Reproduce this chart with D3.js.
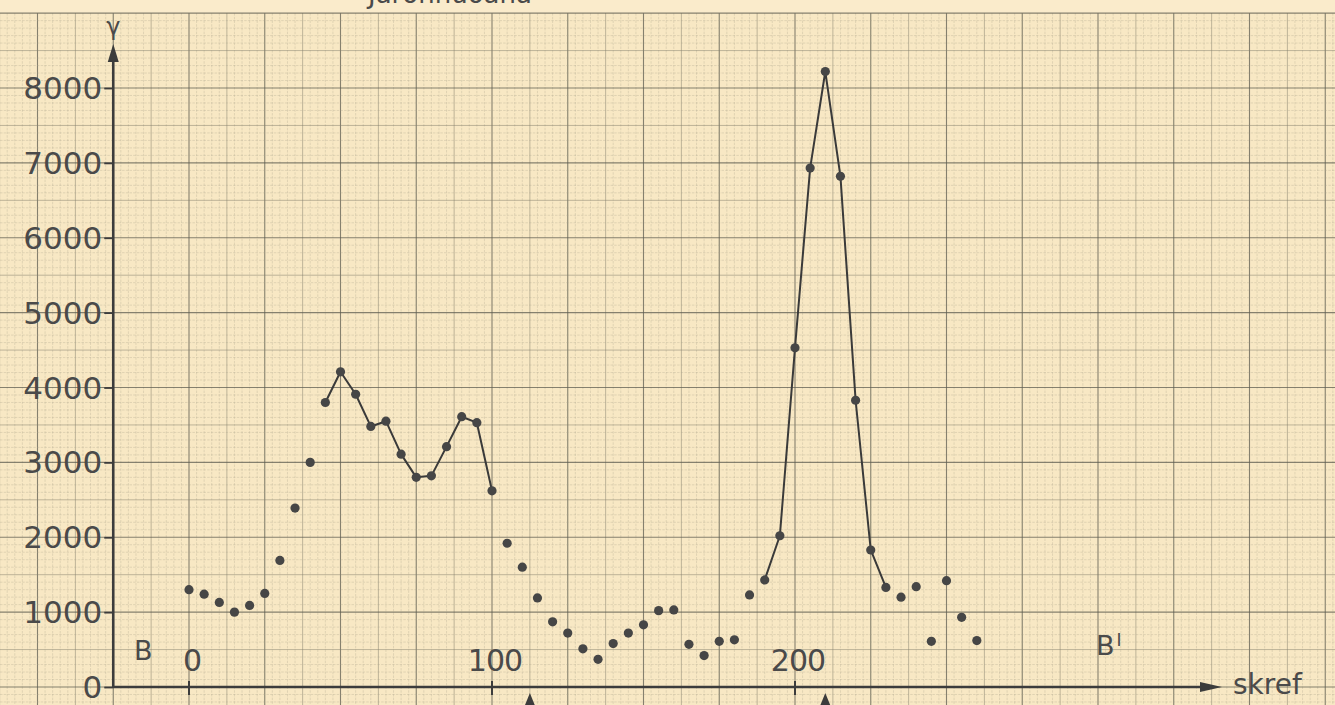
<!DOCTYPE html>
<html>
<head>
<meta charset="utf-8">
<script src="https://cdn.jsdelivr.net/npm/d3@7"></script>
<style>
  html, body { margin: 0; padding: 0; background: #f8e8c4; }
  svg { display: block; }
  text { font-family: "DejaVu Sans", sans-serif; fill: #4a4a4a; }
</style>
</head>
<body>
<svg id="chart" width="1335" height="705"></svg>
<script>
// Measurement positions along the profile (skref) and field values (γ)
const steps = [0, 5, 10, 15, 20, 25, 30, 35, 40, 45, 50, 55, 60, 65, 70, 75, 80, 85, 90, 95,
  100, 105, 110, 115, 120, 125, 130, 135, 140, 145, 150, 155, 160, 165, 170, 175, 180, 185, 190, 195,
  200, 205, 210, 215, 220, 225, 230, 235, 240, 245, 250, 255, 260];
const gamma = [1300, 1240, 1130, 1000, 1090, 1250, 1690, 2390, 3000, 3800, 4210, 3910, 3480, 3550, 3110, 2800, 2820, 3210, 3610, 3530,
  2620, 1920, 1600, 1190, 870, 720, 510, 370, 580, 720, 830, 1020, 1030, 570, 420, 610, 630, 1230, 1430, 2020,
  4530, 6930, 8220, 6820, 3830, 1830, 1330, 1200, 1340, 610, 1420, 930, 620];

// Stretches of the profile joined by a line
const joinedRuns = [[45, 100], [190, 230]];

// Axis tick labels
const yTicks = [0, 1000, 2000, 3000, 4000, 5000, 6000, 7000, 8000];
const xTicks = [0, 100, 200];
// Markers under the profile axis
const markerSteps = [112.5, 210];

const svg = d3.select("#chart");
const W = 1335, H = 705;

const x = d3.scaleLinear().domain([0, 200]).range([189, 795]);
const y = d3.scaleLinear().domain([0, 8000]).range([687, 88]);

// Paper
svg.append("rect").attr("width", W).attr("height", H).attr("fill", "#f8e8c4");
svg.append("rect").attr("width", W).attr("height", y(9000)).attr("fill", "#faebcb");

// Graph-paper ruling: 10 fine cells per major square, heavier line at the half
const grid = svg.append("g");
const gTop = y(9000), gBottom = H;
function rule(sel, major, mid) {
  return sel
    .attr("stroke", major ? "#5f5d52" : mid ? "#857f6d" : "#a9a18a")
    .attr("stroke-width", major ? 1.1 : mid ? 0.85 : 0.6)
    .attr("stroke-opacity", major ? 0.75 : mid ? 0.6 : 0.5)
    .attr("stroke-dasharray", major || mid ? null : "2.5 1.2");
}
for (let i = -26; i <= 152; i++) {
  const px = x(i * 2.5);
  if (px < -2 || px > W + 2) continue;
  rule(grid.append("line")
    .attr("x1", px).attr("x2", px).attr("y1", gTop).attr("y2", gBottom),
    i % 10 === 0, i % 5 === 0);
}
for (let j = -3; j <= 90; j++) {
  const py = y(j * 100);
  if (py > H + 2) continue;
  rule(grid.append("line")
    .attr("x1", 0).attr("x2", W).attr("y1", py).attr("y2", py),
    j % 10 === 0, j % 5 === 0);
}

// Heading, running off the top of the sheet
svg.append("text")
  .attr("x", 368).attr("y", 3)
  .attr("font-size", 26)
  .text("Jarðhnúðana");

const ink = "#3c3c3c";
const axisX = x(-25);

// Vertical axis with arrow
svg.append("line")
  .attr("x1", axisX).attr("x2", axisX).attr("y1", y(0) + 1).attr("y2", 58)
  .attr("stroke", ink).attr("stroke-width", 2.6);
svg.append("path")
  .attr("d", `M${axisX},44 L${axisX - 5.5},62 L${axisX + 5.5},62 Z`)
  .attr("fill", ink);
svg.append("text")
  .attr("x", axisX - 7).attr("y", 35)
  .attr("font-size", 24)
  .text("γ");

// Horizontal axis with arrow
const axisEnd = 1222;
svg.append("line")
  .attr("x1", axisX).attr("x2", axisEnd - 14).attr("y1", y(0)).attr("y2", y(0))
  .attr("stroke", ink).attr("stroke-width", 2.4);
svg.append("path")
  .attr("d", `M${axisEnd},${y(0)} L${axisEnd - 22},${y(0) - 5} L${axisEnd - 22},${y(0) + 5} Z`)
  .attr("fill", ink);
svg.append("text")
  .attr("x", 1233).attr("y", y(0) + 7)
  .attr("font-size", 28)
  .text("skref");

// Y ticks and labels
const yAxis = d3.axisLeft(y).tickValues(yTicks).tickSize(9).tickPadding(2).tickFormat(d3.format("d"));
const gy = svg.append("g").attr("transform", `translate(${axisX},0)`).call(yAxis);
gy.select(".domain").remove();
gy.selectAll(".tick line").attr("stroke", ink).attr("stroke-width", 1.8);
gy.selectAll(".tick text")
  .attr("font-size", 31).attr("fill", "#4a4a4a")
  .attr("font-family", "DejaVu Sans, sans-serif")
  .attr("dy", "0.34em");

// X ticks (below the axis) and labels (above it)
const gx = svg.append("g");
xTicks.forEach(t => {
  gx.append("line")
    .attr("x1", x(t)).attr("x2", x(t)).attr("y1", y(0) - 6).attr("y2", y(0) + 8)
    .attr("stroke", ink).attr("stroke-width", 2);
  gx.append("text")
    .attr("x", x(t) + 3).attr("y", y(0) - 16)
    .attr("text-anchor", "middle")
    .attr("font-size", 30).attr("letter-spacing", -1)
    .text(t);
});

// Profile end labels
svg.append("text").attr("x", 134).attr("y", 660).attr("font-size", 27).text("B");
const bp = svg.append("text").attr("x", 1096).attr("y", 655).attr("font-size", 27);
bp.append("tspan").text("B");
bp.append("tspan").attr("font-size", 17).attr("dy", -9).attr("dx", 2).text("I");

// Markers under the axis
markerSteps.forEach(s => {
  svg.append("path")
    .attr("d", `M${x(s)},${y(0) + 6} L${x(s) - 6.5},${y(0) + 22} L${x(s) + 6.5},${y(0) + 22} Z`)
    .attr("fill", ink);
});

// Data
const pts = steps.map((s, i) => ({ s, v: gamma[i] }));
const line = d3.line().x(d => x(d.s)).y(d => y(d.v));
joinedRuns.forEach(([a, b]) => {
  svg.append("path")
    .datum(pts.filter(d => d.s >= a && d.s <= b))
    .attr("d", line)
    .attr("fill", "none")
    .attr("stroke", "#3a3a3a")
    .attr("stroke-width", 2)
    .attr("stroke-linejoin", "round");
});
svg.append("g").selectAll("circle").data(pts).join("circle")
  .attr("cx", d => x(d.s)).attr("cy", d => y(d.v))
  .attr("r", 4.6)
  .attr("fill", "#464646");
</script>
</body>
</html>
